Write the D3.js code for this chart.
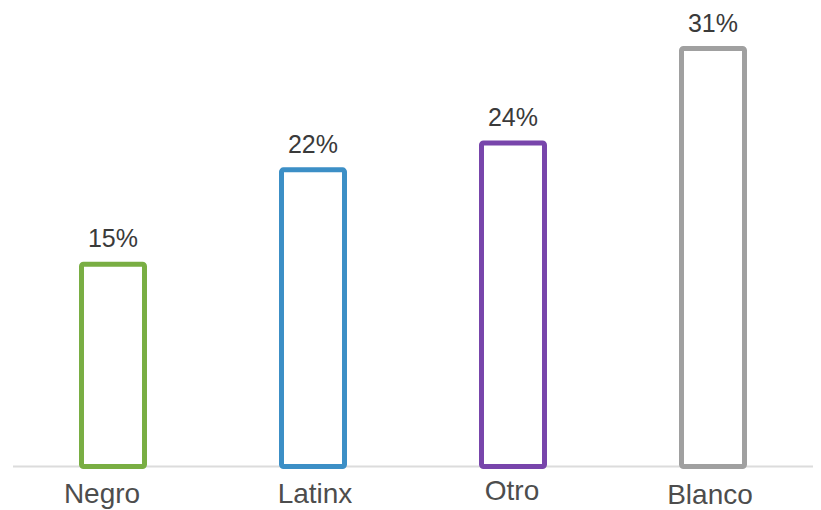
<!DOCTYPE html>
<html>
<head>
<meta charset="utf-8">
<script src="https://cdn.jsdelivr.net/npm/d3@7"></script>
<style>
  body { margin: 0; background: #fff; }
  svg { display: block; }
</style>
</head>
<body>
<div id="chart"></div>
<script>
// datos - data
var categorias = ['Negro', 'Latinx', 'Otro', 'Blanco'];
var valores = [15, 22, 24, 31];
var etiquetas = ['15%', '22%', '24%', '31%'];
var colores = ['#79ae43', '#3c8fc6', '#7845ab', '#a0a0a0'];

var width = 821;
var height = 510;

// pequeños ajustes de las etiquetas del eje - small nudges of axis labels
var ajusteX = [-11, 2, -1, -3];
var ajusteY = [1, 1, -2, 2];

var svg = d3.select('#chart')
  .append('svg')
  .attr('width', width)
  .attr('height', height);

// escalas - scales
var x = d3.scaleBand()
  .domain(categorias)
  .range([13, 813])
  .paddingInner(0.685)
  .paddingOuter(0.3425);

var y = d3.scaleLinear()
  .domain([0, 31])
  .range([466.5, 48.5]);

// linea base - baseline
svg.append('line')
  .attr('x1', 13)
  .attr('x2', 813)
  .attr('y1', 466.5)
  .attr('y2', 466.5)
  .attr('stroke', '#dcdcdc')
  .attr('stroke-width', 2);

// barras - bars
svg.selectAll('rect.barra')
  .data(valores)
  .enter()
  .append('rect')
  .attr('class', 'barra')
  .attr('x', function(d, i) { return x(categorias[i]); })
  .attr('y', function(d) { return y(d); })
  .attr('width', x.bandwidth())
  .attr('height', function(d) { return y(0) - y(d); })
  .attr('rx', 2)
  .attr('fill', '#fff')
  .attr('stroke', function(d, i) { return colores[i]; })
  .attr('stroke-width', 5);

// valores encima - value labels
svg.selectAll('text.valor')
  .data(valores)
  .enter()
  .append('text')
  .attr('class', 'valor')
  .attr('x', function(d, i) { return x(categorias[i]) + x.bandwidth() / 2; })
  .attr('y', function(d) { return y(d) - 17; })
  .attr('text-anchor', 'middle')
  .attr('font-family', 'Liberation Sans, Arial, sans-serif')
  .attr('font-size', '25px')
  .attr('fill', '#3a3a3a')
  .text(function(d, i) { return etiquetas[i]; });

// eje x - category labels
var ejeX = svg.append('g')
  .attr('transform', 'translate(0,' + 502 + ')')
  .call(d3.axisBottom(x).tickSize(0).tickPadding(0));

ejeX.select('.domain').remove();

ejeX.selectAll('text')
  .attr('dy', 0)
  .attr('y', function(d, i) { return ajusteY[i]; })
  .attr('x', function(d, i) { return ajusteX[i]; })
  .attr('font-family', 'Liberation Sans, Arial, sans-serif')
  .attr('font-size', '28px')
  .attr('fill', '#4d4d4d');
</script>
</body>
</html>
